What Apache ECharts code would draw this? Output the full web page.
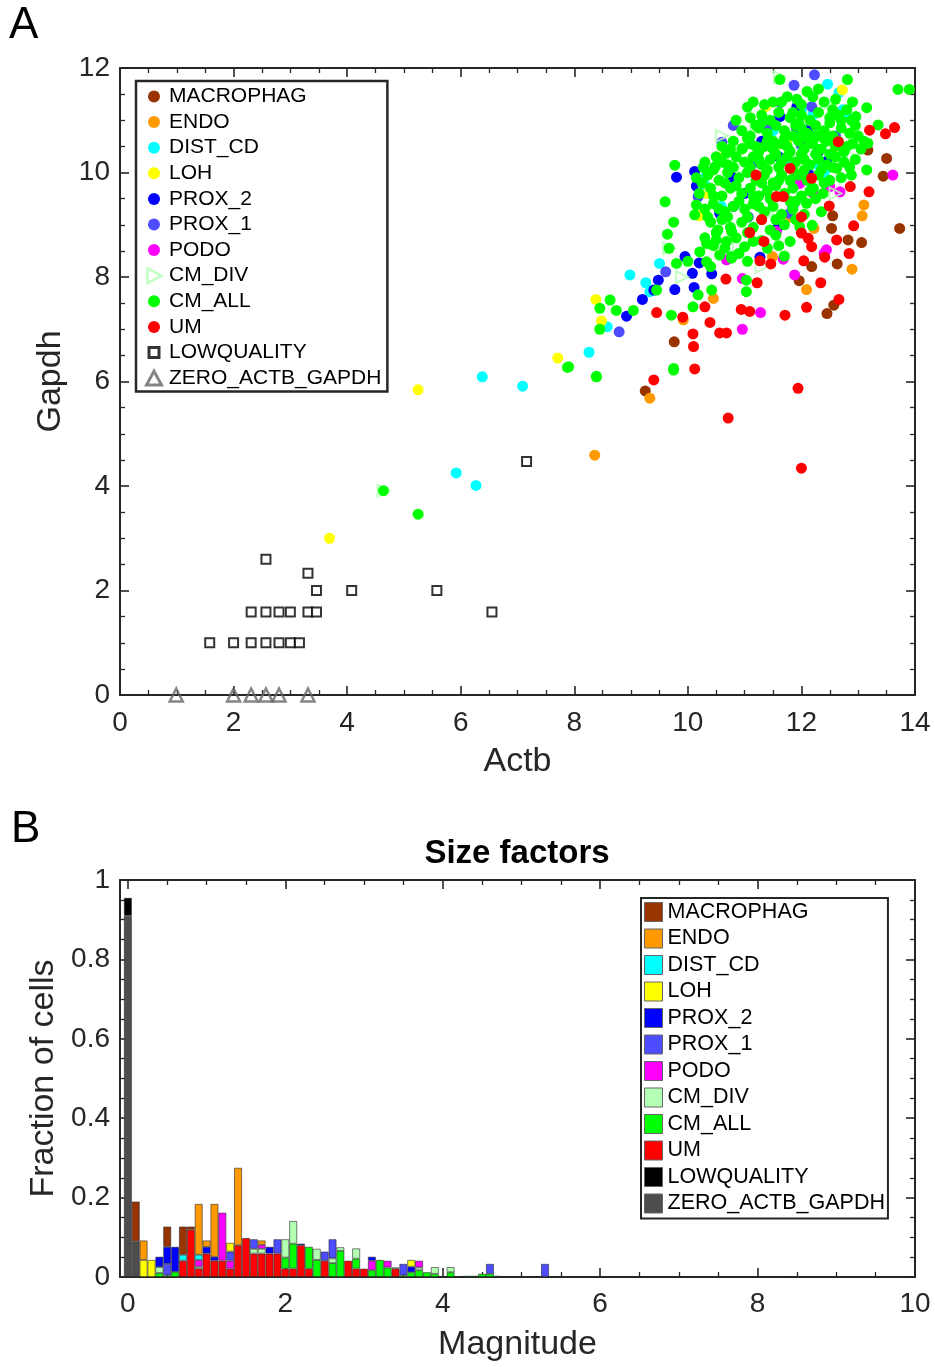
<!DOCTYPE html>
<html><head><meta charset="utf-8">
<script src="https://cdn.jsdelivr.net/npm/echarts@6.0.0/dist/echarts.min.js"></script>
<style>
html,body{margin:0;padding:0;background:#fff;}
#c1{position:absolute;left:0;top:0;width:935px;height:790px;}
#c2{position:absolute;left:0;top:790px;width:935px;height:577px;}
</style>
</head><body><div id="c1"></div><div id="c2"></div>
<script>
// ---------------- categories & colours ----------------
const categories = ['MACROPHAG','ENDO','DIST_CD','LOH','PROX_2','PROX_1','PODO','CM_DIV','CM_ALL','UM','LOWQUALITY','ZERO_ACTB_GAPDH'];
const catColors = ['#993300','#ff9900','#00ffff','#ffff00','#0000ff','#4d4dff','#ff00ff','#b3ffb3','#00ff00','#ff0000','#000000','#4d4d4d'];

// ---------------- panel A : Actb vs Gapdh (x, y) ----------------
const sc_MACROPHAG = [[13.73,8.93],[13.50,10.27],[13.44,9.93],[13.17,10.43],[12.55,9.17],[12.53,8.93],[12.82,8.71],[13.06,8.66],[12.18,8.20],[12.63,8.25],[11.96,7.93],[12.57,7.46],[12.45,7.30],[9.76,6.76],[9.25,5.82]];
const sc_ENDO = [[13.10,9.38],[13.07,9.17],[12.22,8.93],[12.89,8.15],[12.09,7.76],[11.49,8.39],[11.80,9.15],[9.33,5.68],[10.45,7.59],[9.92,7.18],[8.36,4.59]];
const sc_DIST_CD = [[12.46,11.69],[12.66,11.53],[12.73,11.20],[12.78,11.12],[8.98,8.04],[9.50,8.26],[9.26,7.89],[9.33,7.72],[8.26,6.56],[8.58,7.05],[10.33,9.95],[10.30,9.76],[10.59,9.35],[11.27,10.46],[12.32,10.11],[6.38,6.09],[7.09,5.91],[5.92,4.25],[6.27,4.01],[11.50,10.80],[12.20,11.10],[11.80,10.20],[12.40,10.00],[12.00,11.20]];
const sc_LOH = [[12.72,11.58],[11.37,11.26],[10.52,10.29],[10.33,9.60],[10.20,9.17],[8.38,7.57],[8.48,7.16],[7.71,6.45],[11.74,10.57],[5.25,5.84],[3.69,3.00]];
const sc_PROX_2 = [[9.80,9.91],[10.12,10.02],[10.15,9.74],[9.95,8.39],[10.20,8.27],[10.08,8.07],[10.42,8.06],[9.77,7.76],[10.11,7.80],[9.48,7.94],[9.20,7.57],[8.92,7.25],[11.27,8.38],[11.06,9.15],[11.59,8.96],[11.62,11.07],[11.92,11.26],[10.56,9.22],[10.80,9.35],[11.85,9.35],[12.12,10.02],[12.44,10.21],[11.30,10.60],[11.60,10.30],[11.90,9.90],[12.10,10.80],[11.00,9.60],[10.80,9.90],[12.30,10.40],[9.40,7.75]];
const sc_PROX_1 = [[12.23,11.87],[11.87,11.67],[11.63,11.34],[10.80,10.90],[10.60,10.58],[10.18,9.54],[9.61,8.10],[8.79,6.95],[12.18,11.26],[11.91,10.85],[11.65,10.24],[11.15,10.24],[11.80,9.22],[11.40,10.90],[12.00,10.50],[11.20,10.20],[12.60,10.70]];
const sc_PODO = [[13.61,9.95],[12.50,9.73],[12.68,9.63],[12.44,8.52],[12.40,8.45],[11.88,8.04],[10.96,7.97],[11.28,7.32],[10.96,7.00],[11.68,8.34],[10.68,8.33],[11.56,8.87],[12.21,9.60],[11.97,9.79]];
const sc_CM_DIV = [[11.62,11.82],[11.20,10.90],[9.67,8.55],[12.45,11.30],[10.60,10.70],[12.90,10.30],[11.90,10.40],[10.30,9.70],[11.40,9.20],[12.20,10.00],[4.64,3.91],[10.90,8.60],[12.60,9.60],[11.00,10.10],[9.90,8.00],[11.30,8.20]];
const sc_CM_ALL = [
 [13.70,11.59],[13.90,11.59],[12.81,11.78],[11.62,11.78],[11.92,11.40],[13.15,11.24],[12.96,11.07],[12.88,11.00],[13.35,10.91],[13.17,10.56],
 [9.77,10.14],[9.60,9.44],[9.75,9.05],[9.64,8.82],[9.67,8.55],[8.63,7.56],[8.45,7.40],[8.45,7.00],[8.74,7.36],[9.04,7.36],
 [7.88,6.27],[8.39,6.10],[9.75,6.25],[9.71,7.27],[9.45,7.75],[10.09,7.43],[10.18,7.66],[10.42,7.75],[11.03,7.94],[11.03,7.72],
 [13.15,10.05],[12.88,9.95],[12.62,10.08],[12.38,9.60],[12.09,9.41],[12.21,9.70],[12.35,9.25],[12.19,8.99],[11.97,8.96],[11.80,8.68],
 [11.00,8.58],[11.15,8.68],[10.68,8.68],[10.77,8.39],[10.56,8.42],[10.33,8.29],[10.21,8.48],[9.80,8.26],[10.53,8.90],[10.50,8.71],
 [10.15,9.38],[10.12,9.19],[10.27,10.10],[10.48,10.11],[10.68,10.37],[10.96,10.46],[10.33,8.64],[10.77,8.87],[10.77,8.36],[4.64,3.91],[5.25,3.46],[7.90,6.28],[8.39,6.09],[9.75,6.22],
 [11.50,11.35],[11.75,11.45],[12.00,11.30],[12.20,11.45],[12.40,11.35],[11.85,11.15],[12.55,11.20],
 [11.10,11.05],[11.30,11.10],[11.45,11.00],[11.60,11.15],[11.80,11.05],[12.00,11.10],[12.15,11.00],[12.30,11.15],[12.50,11.05],[12.65,11.10],[12.80,11.20],[11.20,10.90],[11.95,10.95],
 [10.95,10.80],[11.10,10.70],[11.25,10.85],[11.40,10.75],[11.55,10.90],[11.70,10.80],[11.85,10.70],[12.00,10.85],[12.10,10.75],[12.25,10.90],[12.40,10.80],[12.55,10.70],[12.70,10.85],[12.85,10.75],[13.00,10.70],[11.30,10.95],[11.90,10.90],[12.30,10.70],
 [10.60,10.50],[10.80,10.60],[10.95,10.45],[11.10,10.55],[11.25,10.40],[11.40,10.60],[11.50,10.45],[11.65,10.55],[11.80,10.40],[11.95,10.60],[12.05,10.45],[12.20,10.55],[12.35,10.45],[12.45,10.60],[12.60,10.50],[12.75,10.40],[12.90,10.55],[13.05,10.45],[11.70,10.65],[12.10,10.65],[12.50,10.35],[11.35,10.50],
 [10.30,10.20],[10.50,10.30],[10.70,10.15],[10.85,10.30],[11.00,10.20],[11.15,10.30],[11.30,10.15],[11.45,10.25],[11.60,10.10],[11.75,10.30],[11.90,10.20],[12.00,10.35],[12.15,10.15],[12.30,10.25],[12.45,10.15],[12.60,10.30],[12.75,10.20],[12.95,10.25],[11.55,10.35],[12.25,10.35],[11.85,10.05],
 [10.15,9.90],[10.35,9.95],[10.55,9.85],[10.70,10.00],[10.90,9.90],[11.05,10.00],[11.20,9.85],[11.35,9.95],[11.50,9.80],[11.65,9.95],[11.80,9.85],[11.95,9.95],[12.10,9.85],[12.30,9.95],[12.50,9.85],[12.70,9.90],[11.40,10.05],[12.05,10.05],
 [10.20,9.60],[10.40,9.70],[10.60,9.55],[10.75,9.70],[10.95,9.60],[11.10,9.70],[11.25,9.55],[11.40,9.65],[11.55,9.75],[11.70,9.60],[11.85,9.70],[12.00,9.55],[12.25,9.50],[11.30,9.80],
 [10.30,9.30],[10.45,9.40],[10.65,9.25],[10.80,9.35],[11.00,9.30],[11.15,9.40],[11.35,9.25],[11.50,9.35],[11.65,9.20],[11.85,9.30],[12.05,9.20],[10.90,9.45],
 [10.40,9.05],[10.60,9.10],[10.75,8.95],[10.95,9.05],[11.15,8.95],[11.30,9.10],[11.45,8.90],[11.70,9.00],[11.90,9.10],
 [10.30,8.75],[10.45,8.60],[10.85,8.75],[11.30,8.70],[11.55,8.80],[11.60,8.60],[10.65,8.55],
 [10.00,8.30],[10.40,8.20],[10.90,8.45],[11.05,8.30],[11.70,8.40],
 [10.85,11.00],[11.05,11.25],[11.35,11.30],[11.65,11.35],[12.10,11.55],[12.30,11.60],[12.60,11.40],[12.70,11.00],[12.95,10.90],[13.10,10.60],
 [10.75,10.45],[11.05,10.65],[11.20,10.50],[11.50,10.60],[11.75,10.50],[12.00,10.70],[12.20,10.70],[12.40,10.65],[12.65,10.60],[12.80,10.50],
 [10.45,10.05],[10.60,10.20],[10.80,10.10],[11.10,10.10],[11.25,10.25],[11.65,10.20],[12.05,10.25],[12.35,10.05],[12.55,10.10],[12.85,10.10],
 [10.25,9.80],[10.45,9.55],[10.65,9.80],[10.85,9.75],[11.15,9.55],[11.45,9.50],[11.60,9.85],[11.90,9.45],[12.15,9.65],[12.40,9.80],
 [10.55,9.30],[10.70,9.15],[11.05,9.15],[11.25,9.35],[11.55,9.10],[11.80,9.45],[10.35,9.15],[10.50,8.85],[11.05,8.85],[11.40,8.55],
 [12.50,10.95],[11.15,11.35],[12.90,11.35]
];
const sc_UM = [[13.20,10.81],[13.48,10.74],[13.64,10.86],[12.65,10.59],[11.80,10.08],[11.20,9.95],[12.18,9.89],[12.86,9.73],[13.19,9.63],[12.49,9.36],[11.56,9.54],[11.68,9.54],[11.30,9.10],[11.09,8.85],[12.00,9.15],[12.92,8.98],[12.00,8.84],[12.12,8.74],[12.62,8.71],[11.34,8.68],[12.18,8.58],[12.84,8.45],[12.41,8.38],[11.27,8.31],[11.46,8.25],[12.04,8.31],[10.67,7.96],[11.22,7.89],[12.34,7.89],[10.30,7.43],[10.94,7.38],[11.09,7.34],[9.91,7.23],[10.39,7.13],[9.45,7.32],[11.71,7.27],[12.09,7.42],[12.66,7.57],[10.56,6.93],[10.68,6.93],[10.09,6.91],[10.10,6.67],[10.12,6.24],[9.40,6.03],[11.94,5.87],[12.00,4.34],[10.71,5.30]];
const sc_LOWQUALITY = [[1.58,1.0],[2.0,1.0],[2.31,1.0],[2.57,1.0],[2.80,1.0],[3.00,1.0],[3.16,1.0],[2.31,1.59],[2.57,1.59],[2.80,1.59],[3.00,1.59],[3.31,1.59],[3.46,1.59],[6.55,1.59],[3.46,2.0],[4.08,2.0],[5.58,2.0],[3.31,2.33],[2.57,2.60],[7.16,4.47]];
const sc_ZERO = [[0.99,0],[2.0,0],[2.31,0],[2.57,0],[2.80,0],[3.31,0]];
const scatterData = [sc_MACROPHAG,sc_ENDO,sc_DIST_CD,sc_LOH,sc_PROX_2,sc_PROX_1,sc_PODO,sc_CM_DIV,sc_CM_ALL,sc_UM,sc_LOWQUALITY,sc_ZERO];

// ---------------- panel B : size-factor histogram ----------------
// bin centres from the left edge (-0.1) to the right edge (10.0) of the axis
const bins = [-0.1,0,0.1,0.2,0.3,0.4,0.5,0.6,0.7,0.8,0.9,1.0,1.1,1.2,1.3,1.4,1.5,1.6,1.7,1.8,1.9,2.0,2.1,2.2,2.3,2.4,2.5,2.6,2.7,2.8,2.9,3.0,3.1,3.2,3.3,3.4,3.5,3.6,3.7,3.8,3.9,4.0,4.1,4.2,4.3,4.4,4.5,4.6,4.7,4.8,4.9,5.0,5.1,5.2,5.3,5.4,5.5,5.6,5.7,5.8,5.9,6.0,6.1,6.2,6.3,6.4,6.5,6.6,6.7,6.8,6.9,7.0,7.1,7.2,7.3,7.4,7.5,7.6,7.7,7.8,7.9,8.0,8.1,8.2,8.3,8.4,8.5,8.6,8.7,8.8,8.9,9.0,9.1,9.2,9.3,9.4,9.5,9.6,9.7,9.8,9.9,10.0];
const h_MACROPHAG = [[0.1,0.10],[0.5,0.051],[0.7,0.071],[0.8,0.008]];
const h_ENDO = [[0.2,0.049],[0.9,0.128],[1.0,0.016],[1.1,0.133],[1.4,0.195],[1.7,0.011]];
const h_DIST_CD = [[0.7,0.015],[0.9,0.013]];
const h_LOH = [[0.2,0.043],[0.3,0.043],[1.3,0.022],[3.6,0.017]];
const h_PROX_2 = [[0.4,0.026],[0.5,0.043],[0.6,0.063],[1.0,0.017],[1.1,0.010],[1.8,0.017],[2.2,0.004],[3.1,0.010],[3.6,0.014]];
const h_PROX_1 = [[0.5,0.029],[1.3,0.023],[1.6,0.024],[1.9,0.036],[2.5,0.023],[2.6,0.048],[3.5,0.029],[4.6,0.025],[5.3,0.033]];
const h_PODO = [[0.9,0.017],[1.2,0.121],[1.3,0.020],[1.7,0.010],[3.1,0.024],[3.3,0.017],[3.7,0.017]];
const h_CM_DIV = [[0.4,0.015],[0.9,0.005],[1.6,0.012],[1.7,0.012],[2.0,0.046],[2.1,0.057],[2.4,0.028],[2.6,0.012],[2.7,0.009],[2.9,0.026],[3.4,0.003],[3.7,0.007],[3.9,0.017],[4.1,0.013]];
const h_CM_ALL = [[0.4,0.010],[0.5,0.004],[0.6,0.013],[2.0,0.028],[2.1,0.063],[2.3,0.055],[2.4,0.043],[2.6,0.035],[2.7,0.066],[2.9,0.025],[3.1,0.017],[3.2,0.043],[3.3,0.024],[3.5,0.004],[3.6,0.012],[3.7,0.017],[3.8,0.012],[3.9,0.008],[4.1,0.012],[4.3,0.003],[4.4,0.003],[4.5,0.008],[4.6,0.008],[4.7,0.003],[6.0,0.002],[8.4,0.002]];
const h_UM = [[0.7,0.041],[0.8,0.119],[0.9,0.021],[1.0,0.059],[1.1,0.041],[1.2,0.041],[1.3,0.021],[1.4,0.080],[1.5,0.098],[1.6,0.059],[1.7,0.059],[1.8,0.059],[1.9,0.059],[2.0,0.021],[2.1,0.021],[2.2,0.080],[2.3,0.021],[2.5,0.041],[2.8,0.041],[2.9,0.021],[3.0,0.021],[3.4,0.021]];
const h_LOWQUALITY = [[0,0.045]];
const h_ZERO = [[0,0.91],[0.1,0.09]];
const histData = [h_MACROPHAG,h_ENDO,h_DIST_CD,h_LOH,h_PROX_2,h_PROX_1,h_PODO,h_CM_DIV,h_CM_ALL,h_UM,h_LOWQUALITY,h_ZERO];
const xMajorB = [0,2,4,6,8,10];
const xMinorB = [0.5,1,1.5,2.5,3,3.5,4.5,5,5.5,6.5,7,7.5,8.5,9,9.5];

// ---------------- styling ----------------
const FONT = '"Liberation Sans", Arial, Helvetica, sans-serif';
const AX = '#262626';

function baseAxis(extra) {
  return Object.assign({
    type: 'value', splitLine: {show: false},
    axisLine: {show: true, onZero: false, lineStyle: {color: AX, width: 2}},
    axisTick: {show: true, inside: true, length: 9, lineStyle: {color: AX, width: 1.6}},
    minorTick: {show: true, splitNumber: 4, length: 5, lineStyle: {color: AX, width: 1.3}},
    axisLabel: {show: false}
  }, extra);
}
const tickLabel = (m) => ({show: true, fontSize: 28, color: AX, margin: m, fontFamily: FONT});
const nameStyle = {fontSize: 34, color: AX, fontFamily: FONT};

// ---------------- chart A ----------------
const P = 'M0,0M17,17';
const iconFor = {
  circle: 'path://' + P + 'M2.5,8.5A6,6 0 1,1 14.5,8.5A6,6 0 1,1 2.5,8.5Z',
  rtri: 'path://' + P + 'M2,1L16,8.5L2,16Z',
  square: 'path://' + P + 'M3.5,3.5H13.5V13.5H3.5Z',
  utri: 'path://' + P + 'M8.5,1.5L16,15.5H1Z'
};
const legendA = categories.map((c, i) => {
  if (c === 'CM_DIV') return {name: c, icon: iconFor.rtri, itemStyle: {color: '#ffffff', borderColor: catColors[i], borderWidth: 2.5}};
  if (c === 'LOWQUALITY') return {name: c, icon: iconFor.square, itemStyle: {color: '#ffffff', borderColor: '#000', borderWidth: 3}};
  if (c === 'ZERO_ACTB_GAPDH') return {name: c, icon: iconFor.utri, itemStyle: {color: '#ffffff', borderColor: '#666', borderWidth: 3}};
  return {name: c, icon: iconFor.circle, itemStyle: {color: catColors[i], borderWidth: 0}};
});
const seriesA = categories.map((c, i) => {
  const s = {name: c, type: 'scatter', data: scatterData[i], clip: false, symbol: 'circle', symbolSize: 11,
    itemStyle: {color: catColors[i], opacity: 1}, emphasis: {disabled: true}};
  if (c === 'CM_DIV') { s.symbol = 'triangle'; s.symbolRotate = -90; s.symbolSize = 12; s.itemStyle = {color: 'rgba(255,255,255,0)', borderColor: catColors[i], borderWidth: 2}; }
  if (c === 'LOWQUALITY') { s.symbol = 'rect'; s.symbolSize = 9; s.itemStyle = {color: '#ffffff', borderColor: '#000', borderWidth: 2}; }
  if (c === 'ZERO_ACTB_GAPDH') { s.symbol = 'triangle'; s.symbolSize = 13; s.itemStyle = {color: 'rgba(255,255,255,0)', borderColor: '#666', borderWidth: 2.5}; }
  return s;
});

const chartA = echarts.init(document.getElementById('c1'));
chartA.setOption({
  animation: false,
  backgroundColor: '#fff',
  textStyle: {fontFamily: FONT},
  graphic: [{type: 'text', left: 9, top: 4, style: {text: 'A', fontSize: 44, fill: '#000', fontFamily: FONT}}],
  grid: {left: 120, top: 68, width: 795, height: 627},
  xAxis: [
    baseAxis({position: 'bottom', min: 0, max: 14, interval: 2, axisLabel: tickLabel(14),
      name: 'Actb', nameLocation: 'middle', nameGap: 50, nameTextStyle: nameStyle}),
    baseAxis({position: 'top', min: 0, max: 14, interval: 2})
  ],
  yAxis: [
    baseAxis({position: 'left', min: 0, max: 12, interval: 2, axisLabel: tickLabel(10),
      name: 'Gapdh', nameLocation: 'middle', nameGap: 44, nameTextStyle: nameStyle}),
    baseAxis({position: 'right', min: 0, max: 12, interval: 2})
  ],
  legend: {
    orient: 'vertical', left: 136, top: 81, padding: [5, 6, 3, 8],
    itemWidth: 20, itemHeight: 17, itemGap: 4.6,
    borderColor: AX, borderWidth: 2.5, backgroundColor: '#fff',
    textStyle: {fontSize: 21, color: '#000', fontFamily: FONT},
    data: legendA, selectedMode: false
  },
  series: seriesA
});

// ---------------- chart B ----------------
const binKeys = bins.map(b => b.toFixed(1));
function dense(pairs) {
  const m = new Map(pairs.map(p => [p[0].toFixed(1), p[1]]));
  return binKeys.map(k => m.has(k) ? m.get(k) : null);
}
const stackOrder = categories.map((c, i) => i).reverse(); // bottom of stack first
const seriesB = stackOrder.map(i => ({
  name: categories[i], type: 'bar', stack: 'sf', xAxisIndex: 0, yAxisIndex: 0,
  data: dense(histData[i]), barWidth: 7.9,
  itemStyle: {color: catColors[i], borderColor: 'rgba(40,40,40,0.75)', borderWidth: 0.8},
  emphasis: {disabled: true}
}));
const legendB = categories.map((c, i) => ({name: c, icon: 'rect', itemStyle: {color: catColors[i], borderColor: '#666', borderWidth: 1}}));

const chartB = echarts.init(document.getElementById('c2'));
chartB.setOption({
  animation: false,
  backgroundColor: '#fff',
  textStyle: {fontFamily: FONT},
  graphic: [
    {type: 'text', left: 11, top: 18, style: {text: 'B', fontSize: 44, fill: '#000', fontFamily: FONT}},
    {type: 'text', x: 517, y: 64, style: {text: 'Size factors', fontSize: 33, fontWeight: 'bold', fill: '#000', fontFamily: FONT, align: 'center', verticalAlign: 'middle'}}
  ],
  grid: {left: 120, top: 90, width: 795, height: 407},
  xAxis: [
    {type: 'category', data: binKeys, boundaryGap: false, position: 'bottom',
      axisLine: {show: false}, axisTick: {show: false}, axisLabel: {show: false}, splitLine: {show: false}},
    baseAxis({position: 'bottom', min: -0.1, max: 10, minorTick: {show: false},
      axisTick: {show: true, inside: true, length: 9, customValues: xMajorB, lineStyle: {color: AX, width: 1.6}},
      axisLabel: Object.assign(tickLabel(13), {customValues: xMajorB}),
      name: 'Magnitude', nameLocation: 'middle', nameGap: 51, nameTextStyle: nameStyle}),
    baseAxis({position: 'bottom', min: -0.1, max: 10, minorTick: {show: false}, axisLine: {show: false},
      axisTick: {show: true, inside: true, length: 5, customValues: xMinorB, lineStyle: {color: AX, width: 1.3}}}),
    baseAxis({position: 'top', min: -0.1, max: 10, minorTick: {show: false},
      axisTick: {show: true, inside: true, length: 9, customValues: xMajorB, lineStyle: {color: AX, width: 1.6}}}),
    baseAxis({position: 'top', min: -0.1, max: 10, minorTick: {show: false}, axisLine: {show: false},
      axisTick: {show: true, inside: true, length: 5, customValues: xMinorB, lineStyle: {color: AX, width: 1.3}}})
  ],
  yAxis: [
    baseAxis({position: 'left', min: 0, max: 1, interval: 0.2, axisLabel: tickLabel(10),
      name: 'Fraction of cells', nameLocation: 'middle', nameGap: 56, nameTextStyle: nameStyle}),
    baseAxis({position: 'right', min: 0, max: 1, interval: 0.2})
  ],
  legend: {
    orient: 'vertical', left: 641, top: 108, padding: [3, 3, 4, 3],
    itemWidth: 18, itemHeight: 19, itemGap: 4.5,
    borderColor: AX, borderWidth: 2, backgroundColor: '#fff',
    textStyle: {fontSize: 21.5, color: '#000', fontFamily: FONT},
    data: legendB, selectedMode: false
  },
  series: seriesB
});
</script>
</body></html>
